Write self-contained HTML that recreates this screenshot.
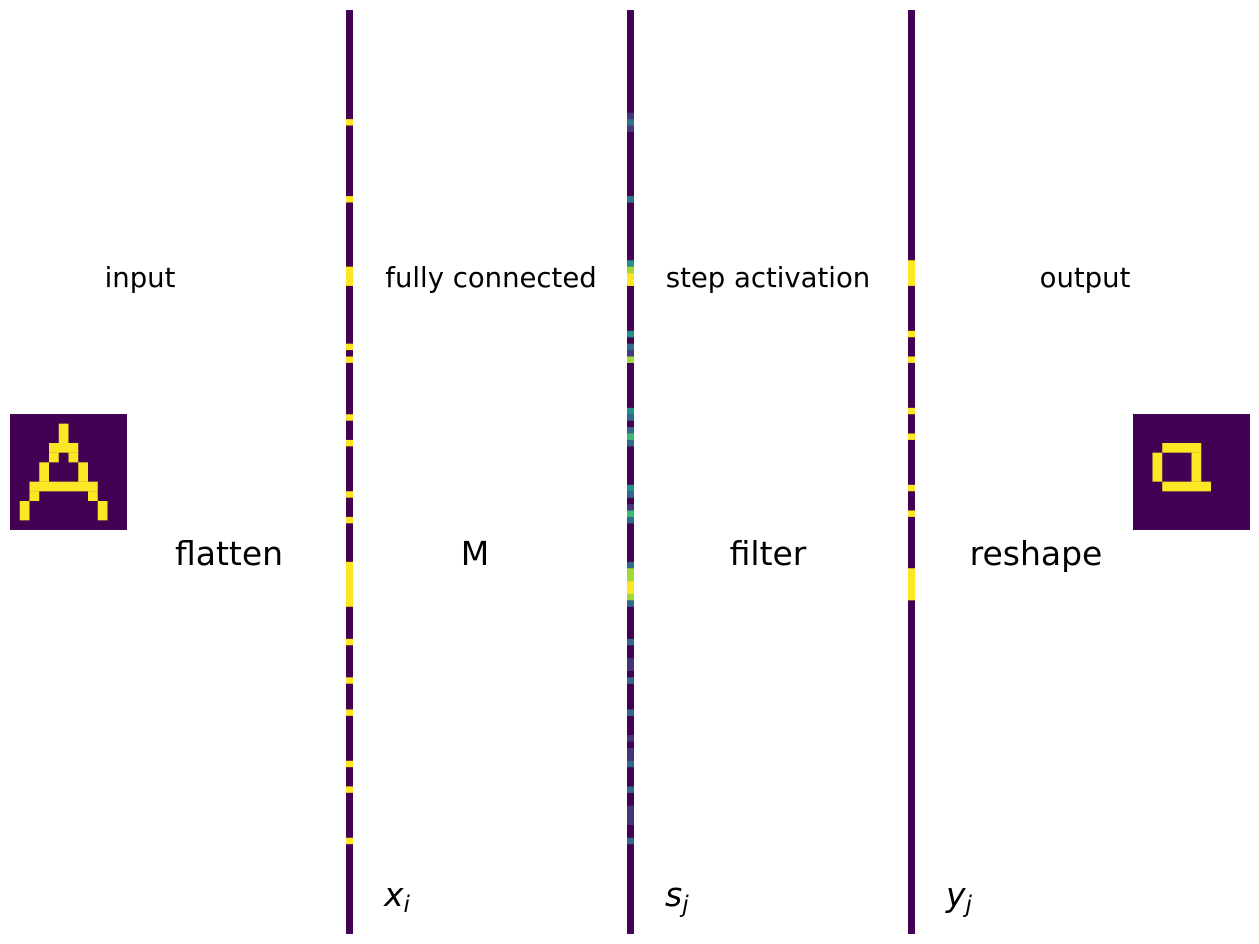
<!DOCTYPE html>
<html><head><meta charset="utf-8"><style>
html,body{margin:0;padding:0;background:#fff;}
svg{display:block;}
text{font-family:"DejaVu Sans","Liberation Sans",sans-serif;fill:#000;}
</style></head><body>
<svg width="1259" height="944" viewBox="0 0 1259 944" xmlns="http://www.w3.org/2000/svg">
<!-- input image -->
<rect x="10" y="414" width="117" height="116" fill="#440154"/>
<g fill="#fde725">
<rect x="58.75" y="423.67" width="9.75" height="19.33"/>
<rect x="49" y="443" width="29.25" height="9.67"/>
<rect x="49" y="452.67" width="9.75" height="9.67"/>
<rect x="68.5" y="452.67" width="9.75" height="9.67"/>
<rect x="39.25" y="462.33" width="9.75" height="19.33"/>
<rect x="78.25" y="462.33" width="9.75" height="19.33"/>
<rect x="29.5" y="481.67" width="68.25" height="9.67"/>
<rect x="29.5" y="491.33" width="9.75" height="9.67"/>
<rect x="88" y="491.33" width="9.75" height="9.67"/>
<rect x="19.75" y="501" width="9.75" height="19.33"/>
<rect x="97.75" y="501" width="9.75" height="19.33"/>
</g>
<!-- output image -->
<rect x="1133" y="414" width="117" height="116" fill="#440154"/>
<g fill="#fde725">
<rect x="1162.25" y="443" width="39" height="9.67"/>
<rect x="1152.5" y="452.67" width="9.75" height="29"/>
<rect x="1191.5" y="452.67" width="9.75" height="29"/>
<rect x="1162.25" y="481.67" width="48.75" height="9.67"/>
</g>
<!-- x bar -->
<rect x="346" y="10" width="7" height="924" fill="#440154"/>
<g fill="#fde725">
<rect x="346" y="119.08" width="7" height="6.42"/>
<rect x="346" y="196.08" width="7" height="6.42"/>
<rect x="346" y="266.67" width="7" height="19.25"/>
<rect x="346" y="343.67" width="7" height="6.42"/>
<rect x="346" y="356.5" width="7" height="6.42"/>
<rect x="346" y="414.25" width="7" height="6.42"/>
<rect x="346" y="439.92" width="7" height="6.42"/>
<rect x="346" y="491.25" width="7" height="6.42"/>
<rect x="346" y="516.92" width="7" height="6.42"/>
<rect x="346" y="561.83" width="7" height="44.92"/>
<rect x="346" y="638.83" width="7" height="6.42"/>
<rect x="346" y="677.33" width="7" height="6.42"/>
<rect x="346" y="709.42" width="7" height="6.42"/>
<rect x="346" y="760.75" width="7" height="6.42"/>
<rect x="346" y="786.42" width="7" height="6.42"/>
<rect x="346" y="837.75" width="7" height="6.42"/>
</g>
<!-- s bar -->
<rect x="627" y="10" width="7" height="924" fill="#440154"/>
<g>
<rect x="627" y="112.67" width="7" height="6.5" fill="#46337e"/>
<rect x="627" y="119.08" width="7" height="6.5" fill="#2a788e"/>
<rect x="627" y="125.5" width="7" height="6.5" fill="#453781"/>
<rect x="627" y="196.08" width="7" height="6.5" fill="#2a788e"/>
<rect x="627" y="260.25" width="7" height="6.5" fill="#21918c"/>
<rect x="627" y="266.67" width="7" height="6.5" fill="#a0da39"/>
<rect x="627" y="273.08" width="7" height="12.9" fill="#fde725"/>
<rect x="627" y="330.83" width="7" height="6.5" fill="#21918c"/>
<rect x="627" y="343.67" width="7" height="6.5" fill="#31688e"/>
<rect x="627" y="350.08" width="7" height="6.5" fill="#443983"/>
<rect x="627" y="356.5" width="7" height="6.5" fill="#a0da39"/>
<rect x="627" y="407.83" width="7" height="6.5" fill="#21918c"/>
<rect x="627" y="414.25" width="7" height="6.5" fill="#31688e"/>
<rect x="627" y="427.08" width="7" height="6.5" fill="#31688e"/>
<rect x="627" y="433.5" width="7" height="6.5" fill="#3bbb75"/>
<rect x="627" y="439.92" width="7" height="6.5" fill="#31688e"/>
<rect x="627" y="484.83" width="7" height="6.5" fill="#21918c"/>
<rect x="627" y="491.25" width="7" height="6.5" fill="#31688e"/>
<rect x="627" y="504.08" width="7" height="6.5" fill="#453781"/>
<rect x="627" y="510.5" width="7" height="6.5" fill="#3bbb75"/>
<rect x="627" y="516.92" width="7" height="6.5" fill="#31688e"/>
<rect x="627" y="561.83" width="7" height="6.5" fill="#31688e"/>
<rect x="627" y="568.25" width="7" height="12.9" fill="#a0da39"/>
<rect x="627" y="581.08" width="7" height="12.9" fill="#fde725"/>
<rect x="627" y="593.92" width="7" height="6.5" fill="#a0da39"/>
<rect x="627" y="600.33" width="7" height="6.5" fill="#31688e"/>
<rect x="627" y="638.83" width="7" height="6.5" fill="#31688e"/>
<rect x="627" y="658.08" width="7" height="12.9" fill="#46337e"/>
<rect x="627" y="677.33" width="7" height="6.5" fill="#31688e"/>
<rect x="627" y="709.42" width="7" height="6.5" fill="#31688e"/>
<rect x="627" y="735.08" width="7" height="6.5" fill="#46337e"/>
<rect x="627" y="747.92" width="7" height="12.9" fill="#46337e"/>
<rect x="627" y="760.75" width="7" height="6.5" fill="#31688e"/>
<rect x="627" y="786.42" width="7" height="6.5" fill="#31688e"/>
<rect x="627" y="805.67" width="7" height="19.3" fill="#46337e"/>
<rect x="627" y="837.75" width="7" height="6.5" fill="#31688e"/>
</g>
<!-- y bar -->
<rect x="908" y="10" width="7" height="924" fill="#440154"/>
<g fill="#fde725">
<rect x="908" y="260.25" width="7" height="25.67"/>
<rect x="908" y="330.83" width="7" height="6.42"/>
<rect x="908" y="356.5" width="7" height="6.42"/>
<rect x="908" y="407.83" width="7" height="6.42"/>
<rect x="908" y="433.5" width="7" height="6.42"/>
<rect x="908" y="484.83" width="7" height="6.42"/>
<rect x="908" y="510.5" width="7" height="6.42"/>
<rect x="908" y="568.25" width="7" height="32.08"/>
</g>
<!-- labels -->
<g font-size="27.5" text-anchor="middle">
<text x="140" y="287">input</text>
<text x="491" y="287">fully connected</text>
<text x="768" y="287">step activation</text>
<text x="1085" y="287">output</text>
</g>
<g font-size="33" text-anchor="middle">
<text x="229" y="565">flatten</text>
<text x="475" y="565">M</text>
<text x="768" y="565">filter</text>
<text x="1036" y="565">reshape</text>
</g>
<g font-size="33" font-style="italic">
<text x="384" y="906">x<tspan font-size="23" dy="6">i</tspan></text>
<text x="665" y="906">s<tspan font-size="23" dy="6">j</tspan></text>
<text x="946" y="906">y<tspan font-size="23" dy="6">j</tspan></text>
</g>
</svg>
</body></html>
